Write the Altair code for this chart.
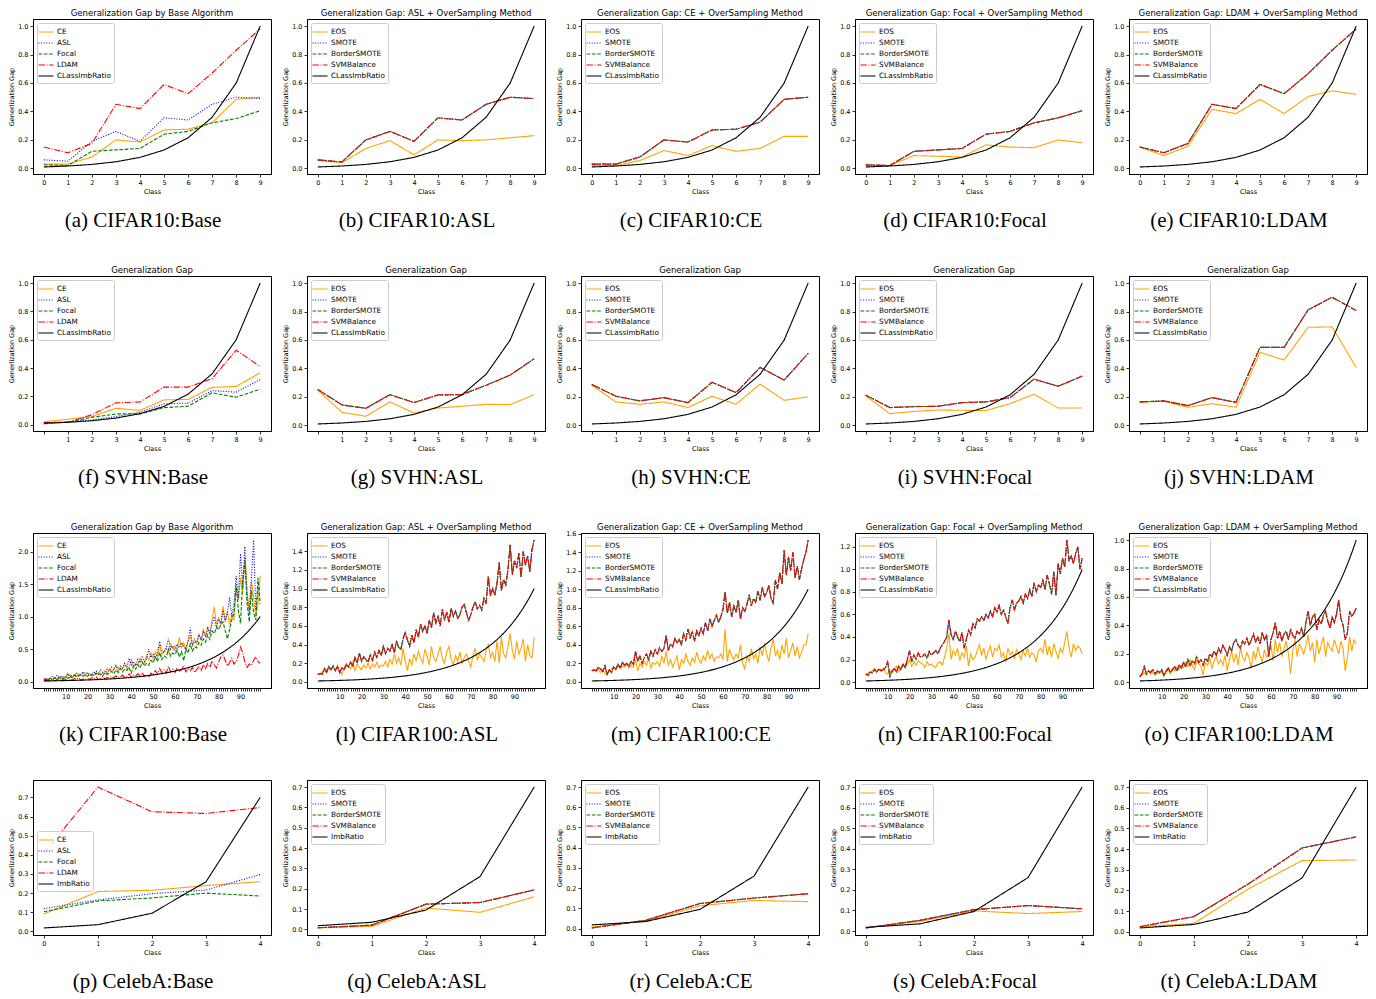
import altair as alt
import pandas as pd

# ---------------- data ----------------
C10 = list(range(10))
C100 = list(range(100))
C5 = list(range(5))

IMB10 = [0.010, 0.0167, 0.0278, 0.0464, 0.0774, 0.129, 0.215, 0.359, 0.599, 1.0]
IMB5 = [0.018, 0.035, 0.095, 0.26, 0.70]
IMB100 = [0.0100, 0.0105, 0.0110, 0.0115, 0.0120, 0.0126, 0.0132, 0.0138, 0.0145, 0.0152,
          0.0159, 0.0167, 0.0175, 0.0183, 0.0192, 0.0201, 0.0210, 0.0220, 0.0231, 0.0242,
          0.0253, 0.0265, 0.0278, 0.0291, 0.0305, 0.0320, 0.0335, 0.0351, 0.0368, 0.0385,
          0.0404, 0.0423, 0.0443, 0.0464, 0.0486, 0.0509, 0.0534, 0.0559, 0.0586, 0.0614,
          0.0643, 0.0673, 0.0705, 0.0739, 0.0774, 0.0811, 0.0850, 0.0890, 0.0933, 0.0977,
          0.1024, 0.1072, 0.1123, 0.1177, 0.1233, 0.1292, 0.1353, 0.1418, 0.1485, 0.1556,
          0.1630, 0.1707, 0.1789, 0.1874, 0.1963, 0.2057, 0.2154, 0.2257, 0.2364, 0.2477,
          0.2595, 0.2718, 0.2848, 0.2983, 0.3125, 0.3274, 0.3430, 0.3593, 0.3764, 0.3943,
          0.4131, 0.4328, 0.4534, 0.4750, 0.4976, 0.5213, 0.5461, 0.5721, 0.5994, 0.6279,
          0.6578, 0.6891, 0.7220, 0.7563, 0.7924, 0.8301, 0.8696, 0.9110, 0.9545, 1.0000]

# CIFAR10
A_CE = [0.03, 0.03, 0.08, 0.20, 0.185, 0.27, 0.275, 0.32, 0.485, 0.50]
A_ASL = [0.06, 0.05, 0.19, 0.26, 0.19, 0.355, 0.34, 0.45, 0.50, 0.49]
A_FOCAL = [0.025, 0.02, 0.12, 0.13, 0.14, 0.24, 0.26, 0.32, 0.35, 0.405]
A_LDAM = [0.15, 0.11, 0.175, 0.45, 0.42, 0.59, 0.525, 0.67, 0.83, 0.98]
B_EOS = [0.055, 0.04, 0.14, 0.195, 0.095, 0.20, 0.195, 0.20, 0.215, 0.23]
B_OS = [0.06, 0.045, 0.20, 0.26, 0.19, 0.355, 0.34, 0.45, 0.50, 0.49]
C_EOS = [0.02, 0.02, 0.055, 0.125, 0.09, 0.16, 0.12, 0.14, 0.225, 0.225]
C_OS = [0.03, 0.03, 0.08, 0.20, 0.185, 0.27, 0.275, 0.325, 0.485, 0.50]
D_EOS = [0.02, 0.02, 0.09, 0.085, 0.08, 0.165, 0.15, 0.145, 0.20, 0.18]
D_OS = [0.025, 0.02, 0.12, 0.13, 0.14, 0.24, 0.26, 0.32, 0.355, 0.405]
E_EOS = [0.15, 0.09, 0.155, 0.415, 0.385, 0.485, 0.385, 0.505, 0.545, 0.52]
E_OS = [0.15, 0.11, 0.175, 0.45, 0.42, 0.59, 0.525, 0.665, 0.83, 0.98]

# SVHN
F_CE = [0.02, 0.038, 0.057, 0.116, 0.10, 0.175, 0.178, 0.263, 0.27, 0.365]
F_ASL = [0.005, 0.02, 0.033, 0.057, 0.088, 0.147, 0.152, 0.24, 0.23, 0.318]
F_FOCAL = [0.012, 0.017, 0.052, 0.076, 0.076, 0.12, 0.13, 0.225, 0.194, 0.25]
F_LDAM = [0.015, 0.017, 0.07, 0.154, 0.16, 0.265, 0.265, 0.325, 0.526, 0.41]
G_EOS = [0.247, 0.092, 0.064, 0.165, 0.087, 0.122, 0.134, 0.148, 0.146, 0.216]
G_OS = [0.252, 0.144, 0.12, 0.216, 0.16, 0.214, 0.216, 0.282, 0.353, 0.468]
H_EOS = [0.282, 0.165, 0.148, 0.165, 0.125, 0.205, 0.148, 0.29, 0.176, 0.20]
H_OS = [0.287, 0.205, 0.172, 0.195, 0.16, 0.303, 0.23, 0.407, 0.318, 0.506]
I_EOS = [0.207, 0.082, 0.098, 0.108, 0.106, 0.104, 0.153, 0.219, 0.122, 0.122]
I_OS = [0.212, 0.125, 0.132, 0.134, 0.16, 0.165, 0.195, 0.325, 0.275, 0.346]
J_EOS = [0.162, 0.17, 0.127, 0.153, 0.127, 0.513, 0.459, 0.689, 0.692, 0.407]
J_OS = [0.165, 0.172, 0.139, 0.195, 0.162, 0.548, 0.548, 0.812, 0.90, 0.807]

# CIFAR100
K_CE = [0.06, 0.03, 0.04, 0.05, 0.03, 0.06, 0.04, 0.07, 0.05, 0.08,
        0.06, 0.13, 0.09, 0.07, 0.11, 0.08, 0.12, 0.10, 0.14, 0.11,
        0.13, 0.09, 0.12, 0.15, 0.11, 0.14, 0.10, 0.13, 0.17, 0.12,
        0.20, 0.15, 0.18, 0.24, 0.16, 0.21, 0.19, 0.27, 0.20, 0.23,
        0.34, 0.22, 0.28, 0.25, 0.36, 0.30, 0.27, 0.40, 0.33, 0.44,
        0.35, 0.46, 0.38, 0.57, 0.41, 0.47, 0.52, 0.44, 0.58, 0.50,
        0.55, 0.48, 0.68, 0.52, 0.60, 0.49, 0.62, 0.70, 0.55, 0.66,
        0.58, 0.74, 0.63, 0.80, 0.70, 0.85, 0.72, 0.95, 1.15, 0.88,
        0.98, 0.86, 1.16, 0.94, 1.08, 0.88, 1.02, 0.95, 1.45, 1.25,
        1.60, 1.35, 1.92, 1.40, 1.10, 1.55, 1.30, 1.00, 1.18, 1.63]
K_ASL = [0.03, 0.05, 0.02, 0.06, 0.08, 0.04, 0.10, 0.06, 0.09, 0.05,
         0.08, 0.12, 0.06, 0.10, 0.08, 0.13, 0.09, 0.11, 0.15, 0.10,
         0.14, 0.11, 0.09, 0.13, 0.16, 0.12, 0.18, 0.14, 0.12, 0.19,
         0.16, 0.22, 0.18, 0.25, 0.20, 0.24, 0.21, 0.28, 0.22, 0.36,
         0.26, 0.31, 0.24, 0.34, 0.29, 0.38, 0.31, 0.35, 0.50, 0.37,
         0.42, 0.36, 0.45, 0.62, 0.48, 0.44, 0.52, 0.66, 0.50, 0.55,
         0.47, 0.58, 0.52, 0.60, 0.54, 0.50, 0.63, 0.83, 0.56, 0.62,
         0.60, 0.72, 0.64, 0.78, 0.69, 0.82, 0.75, 0.88, 1.00, 0.82,
         0.96, 0.90, 1.10, 0.92, 1.05, 1.30, 1.00, 1.20, 1.62, 1.28,
         1.97, 1.45, 2.08, 1.30, 1.05, 1.60, 2.18, 1.10, 1.40, 1.45]
K_FOCAL = [0.02, 0.04, 0.03, 0.05, 0.03, 0.06, 0.04, 0.05, 0.07, 0.04,
           0.07, 0.05, 0.09, 0.06, 0.10, 0.07, 0.09, 0.11, 0.08, 0.10,
           0.08, 0.12, 0.10, 0.09, 0.13, 0.10, 0.12, 0.09, 0.14, 0.11,
           0.13, 0.16, 0.12, 0.18, 0.14, 0.20, 0.15, 0.19, 0.17, 0.22,
           0.13, 0.24, 0.19, 0.26, 0.21, 0.30, 0.24, 0.28, 0.25, 0.33,
           0.29, 0.38, 0.31, 0.45, 0.34, 0.40, 0.37, 0.50, 0.39, 0.44,
           0.42, 0.48, 0.38, 0.46, 0.32, 0.50, 0.44, 0.58, 0.47, 0.54,
           0.52, 0.60, 0.56, 0.66, 0.61, 0.72, 0.65, 0.78, 0.74, 0.84,
           0.80, 0.88, 0.92, 0.78, 0.66, 0.80, 0.95, 1.05, 1.50, 1.10,
           0.90, 1.55, 1.85, 1.20, 0.92, 1.40, 1.05, 0.95, 1.60, 1.20]
K_LDAM = [0.02, 0.01, 0.03, 0.02, 0.04, 0.01, 0.03, 0.02, 0.05, 0.02,
          0.03, 0.01, 0.04, 0.02, 0.05, 0.03, 0.06, 0.02, 0.04, 0.03,
          0.05, 0.03, 0.06, 0.04, 0.07, 0.03, 0.05, 0.08, 0.04, 0.06,
          0.05, 0.08, 0.06, 0.09, 0.05, 0.07, 0.10, 0.06, 0.08, 0.12,
          0.07, 0.10, 0.08, 0.12, 0.09, 0.14, 0.08, 0.11, 0.07, 0.13,
          0.10, 0.17, 0.12, 0.20, 0.14, 0.18, 0.13, 0.24, 0.15, 0.19,
          0.14, 0.21, 0.16, 0.18, 0.25, 0.15, 0.20, 0.17, 0.22, 0.14,
          0.19, 0.23, 0.17, 0.26, 0.20, 0.28, 0.22, 0.32, 0.26, 0.21,
          0.30, 0.38, 0.41, 0.33, 0.24, 0.29, 0.36, 0.27, 0.31, 0.40,
          0.53, 0.45, 0.30, 0.22, 0.27, 0.25, 0.33, 0.38, 0.31, 0.28]
L_EOS = [0.08, 0.09, 0.10, 0.15, 0.12, 0.17, 0.14, 0.16, 0.13, 0.18,
         0.12, 0.08, 0.15, 0.20, 0.17, 0.14, 0.21, 0.12, 0.19, 0.16,
         0.13, 0.18, 0.15, 0.20, 0.14, 0.19, 0.16, 0.21, 0.15, 0.18,
         0.17, 0.22, 0.16, 0.24, 0.19, 0.30, 0.20, 0.26, 0.18, 0.36,
         0.22, 0.12, 0.25, 0.18, 0.30, 0.22, 0.33, 0.26, 0.20, 0.35,
         0.28, 0.18, 0.38, 0.26, 0.22, 0.30, 0.38, 0.25, 0.20, 0.32,
         0.38, 0.24, 0.18, 0.28, 0.22, 0.32, 0.20, 0.26, 0.30, 0.22,
         0.16, 0.28, 0.36, 0.24, 0.30, 0.26, 0.22, 0.34, 0.40, 0.26,
         0.32, 0.22, 0.44, 0.20, 0.48, 0.30, 0.26, 0.38, 0.52, 0.34,
         0.24, 0.44, 0.30, 0.36, 0.46, 0.22, 0.40, 0.28, 0.26, 0.48]
L_OS = [0.08, 0.09, 0.08, 0.14, 0.10, 0.16, 0.13, 0.17, 0.12, 0.16,
        0.10, 0.15, 0.13, 0.18, 0.16, 0.21, 0.17, 0.26, 0.20, 0.31,
        0.22, 0.27, 0.24, 0.21, 0.29, 0.23, 0.32, 0.26, 0.34, 0.28,
        0.38, 0.30, 0.36, 0.33, 0.40, 0.31, 0.44, 0.37, 0.35, 0.46,
        0.53, 0.45, 0.38, 0.50, 0.42, 0.56, 0.48, 0.62, 0.54, 0.60,
        0.52, 0.66, 0.58, 0.74, 0.63, 0.70, 0.60, 0.78, 0.66, 0.75,
        0.64, 0.79, 0.70, 0.76, 0.68, 0.72, 0.80, 0.83, 0.74, 0.66,
        0.72, 0.80, 0.86, 0.78, 0.82, 0.77, 0.90, 0.84, 1.13, 0.92,
        1.00, 0.93, 1.06, 1.28, 0.98, 1.10, 1.04, 1.20, 1.47, 1.15,
        1.30, 1.22, 1.38, 1.12, 1.40, 1.25, 1.35, 1.18, 1.42, 1.52]
M_EOS = [0.12, 0.13, 0.11, 0.14, 0.10, 0.13, 0.09, 0.08, 0.12, 0.14,
         0.16, 0.13, 0.18, 0.15, 0.17, 0.16, 0.19, 0.15, 0.18, 0.16,
         0.24, 0.12, 0.20, 0.16, 0.22, 0.18, 0.26, 0.15, 0.21, 0.19,
         0.22, 0.17, 0.28, 0.20, 0.33, 0.18, 0.24, 0.16, 0.22, 0.28,
         0.13, 0.24, 0.20, 0.30, 0.22, 0.18, 0.26, 0.21, 0.32, 0.24,
         0.20, 0.28, 0.23, 0.34, 0.25, 0.30, 0.22, 0.27, 0.26, 0.30,
         0.24, 0.57, 0.22, 0.35, 0.28, 0.24, 0.30, 0.26, 0.40, 0.20,
         0.14, 0.28, 0.22, 0.36, 0.25, 0.30, 0.20, 0.38, 0.28, 0.42,
         0.30, 0.22, 0.36, 0.46, 0.28, 0.34, 0.24, 0.40, 0.30, 0.47,
         0.26, 0.34, 0.42, 0.28, 0.38, 0.26, 0.32, 0.40, 0.40, 0.52]
M_OS = [0.12, 0.13, 0.12, 0.16, 0.14, 0.11, 0.17, 0.08, 0.13, 0.10,
        0.16, 0.14, 0.19, 0.15, 0.21, 0.18, 0.20, 0.17, 0.22, 0.19,
        0.33, 0.22, 0.28, 0.20, 0.26, 0.30, 0.24, 0.33, 0.28, 0.35,
        0.30, 0.37, 0.33, 0.36, 0.50, 0.34, 0.41, 0.38, 0.47, 0.42,
        0.46, 0.40, 0.52, 0.45, 0.57, 0.48, 0.54, 0.44, 0.55, 0.50,
        0.58, 0.52, 0.64, 0.55, 0.68, 0.60, 0.66, 0.72, 0.64, 0.70,
        0.78, 0.97, 0.74, 0.86, 0.70, 0.82, 0.75, 0.88, 0.68, 0.80,
        0.76, 0.84, 0.94, 0.82, 0.90, 0.86, 0.98, 0.88, 1.02, 0.92,
        0.96, 1.04, 0.90, 0.85, 1.10, 1.00, 1.18, 1.06, 1.42, 1.15,
        1.35, 1.20, 1.40, 1.12, 1.25, 1.10, 1.22, 1.32, 1.40, 1.53]
N_EOS = [0.07, 0.08, 0.09, 0.10, 0.12, 0.09, 0.11, 0.10, 0.12, 0.09,
         0.07, 0.10, 0.08, 0.11, 0.14, 0.09, 0.12, 0.15, 0.13, 0.16,
         0.20, 0.14, 0.18, 0.15, 0.19, 0.17, 0.16, 0.13, 0.18, 0.15,
         0.16, 0.14, 0.13, 0.17, 0.18, 0.15, 0.22, 0.30, 0.43, 0.20,
         0.28, 0.24, 0.30, 0.19, 0.26, 0.22, 0.32, 0.14, 0.25, 0.20,
         0.22, 0.28, 0.33, 0.24, 0.30, 0.20, 0.27, 0.32, 0.22, 0.30,
         0.28, 0.33, 0.22, 0.26, 0.18, 0.30, 0.24, 0.27, 0.21, 0.29,
         0.25, 0.20, 0.28, 0.23, 0.30, 0.22, 0.26, 0.24, 0.18, 0.28,
         0.30, 0.26, 0.38, 0.24, 0.32, 0.22, 0.34, 0.27, 0.21, 0.30,
         0.26, 0.35, 0.45, 0.30, 0.22, 0.34, 0.28, 0.32, 0.30, 0.25]
N_OS = [0.07, 0.06, 0.09, 0.08, 0.11, 0.09, 0.12, 0.10, 0.11, 0.13,
        0.18, 0.05, 0.10, 0.12, 0.09, 0.14, 0.11, 0.16, 0.13, 0.20,
        0.28, 0.18, 0.24, 0.20, 0.26, 0.22, 0.23, 0.25, 0.21, 0.27,
        0.24, 0.26, 0.28, 0.25, 0.30, 0.33, 0.36, 0.40, 0.55, 0.42,
        0.38, 0.45, 0.40, 0.36, 0.44, 0.30, 0.38, 0.46, 0.42, 0.52,
        0.48, 0.56, 0.54, 0.58, 0.55, 0.60, 0.57, 0.63, 0.58, 0.66,
        0.62, 0.68, 0.60, 0.64, 0.58, 0.52, 0.66, 0.73, 0.64, 0.70,
        0.72, 0.76, 0.70, 0.78, 0.74, 0.82, 0.76, 0.88, 0.80, 0.86,
        0.84, 0.90, 0.82, 0.95, 0.87, 0.78, 0.98, 0.77, 1.05, 0.96,
        1.10, 1.02, 1.26, 1.08, 1.12, 1.05, 1.14, 1.20, 1.00, 1.10]
O_EOS = [0.04, 0.05, 0.07, 0.05, 0.08, 0.06, 0.07, 0.05, 0.07, 0.06,
         0.08, 0.04, 0.07, 0.09, 0.06, 0.10, 0.08, 0.11, 0.09, 0.12,
         0.10, 0.14, 0.11, 0.16, 0.12, 0.09, 0.15, 0.13, 0.11, 0.05,
         0.14, 0.12, 0.17, 0.10, 0.15, 0.18, 0.13, 0.16, 0.12, 0.19,
         0.08, 0.16, 0.22, 0.14, 0.20, 0.12, 0.24, 0.18, 0.15, 0.21,
         0.17, 0.10, 0.22, 0.16, 0.25, 0.19, 0.14, 0.23, 0.18, 0.20,
         0.26, 0.15, 0.30, 0.21, 0.28, 0.18, 0.24, 0.29, 0.20, 0.06,
         0.22, 0.30, 0.18, 0.27, 0.24, 0.20, 0.26, 0.33, 0.22, 0.28,
         0.14, 0.30, 0.20, 0.26, 0.32, 0.18, 0.28, 0.24, 0.22, 0.30,
         0.25, 0.20, 0.29, 0.24, 0.08, 0.18, 0.32, 0.22, 0.30, 0.27]
O_OS = [0.04, 0.06, 0.11, 0.06, 0.08, 0.07, 0.09, 0.06, 0.08, 0.07,
        0.09, 0.05, 0.08, 0.10, 0.07, 0.09, 0.11, 0.08, 0.12, 0.10,
        0.14, 0.11, 0.16, 0.12, 0.15, 0.13, 0.18, 0.14, 0.16, 0.12,
        0.17, 0.15, 0.20, 0.18, 0.22, 0.19, 0.24, 0.21, 0.26, 0.23,
        0.19, 0.25, 0.22, 0.28, 0.30, 0.26, 0.24, 0.29, 0.27, 0.31,
        0.26, 0.30, 0.34, 0.28, 0.32, 0.27, 0.35, 0.30, 0.33, 0.18,
        0.30, 0.35, 0.42, 0.31, 0.36, 0.29, 0.34, 0.36, 0.30, 0.37,
        0.33, 0.31, 0.36, 0.34, 0.38, 0.32, 0.42, 0.50, 0.40, 0.46,
        0.48, 0.37, 0.44, 0.41, 0.47, 0.50, 0.43, 0.38, 0.46, 0.42,
        0.48, 0.58, 0.45, 0.40, 0.30, 0.35, 0.50, 0.46, 0.49, 0.52]

# CelebA
P_CE = [0.091, 0.208, 0.215, 0.239, 0.26]
P_ASL = [0.119, 0.164, 0.197, 0.216, 0.297]
P_FOCAL = [0.103, 0.159, 0.175, 0.20, 0.185]
P_LDAM = [0.408, 0.754, 0.625, 0.616, 0.647]
Q_EOS = [0.007, 0.015, 0.105, 0.084, 0.16]
Q_OS = [0.008, 0.021, 0.124, 0.132, 0.194]
R_EOS = [0.008, 0.036, 0.113, 0.139, 0.133]
R_OS = [0.003, 0.041, 0.124, 0.151, 0.172]
S_EOS = [0.016, 0.047, 0.098, 0.085, 0.095]
S_OS = [0.015, 0.052, 0.104, 0.124, 0.108]
T_EOS = [0.023, 0.04, 0.206, 0.344, 0.347]
T_OS = [0.024, 0.073, 0.23, 0.405, 0.459]

# tick values
YT_10 = [0.0, 0.2, 0.4, 0.6, 0.8, 1.0]
YT_K = [0.0, 0.5, 1.0, 1.5, 2.0]
YT_L = [0.0, 0.2, 0.4, 0.6, 0.8, 1.0, 1.2, 1.4]
YT_M = [0.0, 0.2, 0.4, 0.6, 0.8, 1.0, 1.2, 1.4, 1.6]
YT_N = [0.0, 0.2, 0.4, 0.6, 0.8, 1.0, 1.2]
YT_CELEB = [0.0, 0.1, 0.2, 0.3, 0.4, 0.5, 0.6, 0.7]

# ---------------- styles ----------------
COLORS = ["#ffa500", "#0000ff", "#008000", "#ff0000", "#000000"]
DASHES = [[1, 0], [1, 1.6], [3.7, 1.6], [6.4, 1.6, 1, 1.6], [1, 0]]
W, H = 238, 155
FONT = "DejaVu Sans"
YTITLE = "Generlization  Gap"

LABEL_EXPR = {
    "all": "datum.label",
    "skip0": "datum.value == 0 ? '' : datum.label",
    "tens": "(datum.value % 10 == 0 && datum.value > 0) ? datum.label : ''",
}


def base_series(ce, asl, foc, ldam, imb, imbname):
    return [("CE", ce), ("ASL", asl), ("Focal", foc), ("LDAM", ldam), (imbname, imb)]


def os_series(eos, os_vals, imb, imbname):
    return [("EOS", eos), ("SMOTE", os_vals), ("BorderSMOTE", os_vals),
            ("SVMBalance", os_vals), (imbname, imb)]


TITLE_BASE = "Generalization Gap by Base Algorithm"
TITLE_OS = "Generalization Gap: {} + OverSampling Method"
TITLE_SVHN = "Generalization Gap"
IMBN = "CLassImbRatio"

PANELS = [
    # row 1 CIFAR10
    dict(title=TITLE_BASE, cap="(a) CIFAR10:Base", cls=C10, lab="all", yt=YT_10,
         series=base_series(A_CE, A_ASL, A_FOCAL, A_LDAM, IMB10, IMBN)),
    dict(title=TITLE_OS.format("ASL"), cap="(b) CIFAR10:ASL", cls=C10, lab="all", yt=YT_10,
         series=os_series(B_EOS, B_OS, IMB10, IMBN)),
    dict(title=TITLE_OS.format("CE"), cap="(c) CIFAR10:CE", cls=C10, lab="all", yt=YT_10,
         series=os_series(C_EOS, C_OS, IMB10, IMBN)),
    dict(title=TITLE_OS.format("Focal"), cap="(d) CIFAR10:Focal", cls=C10, lab="all", yt=YT_10,
         series=os_series(D_EOS, D_OS, IMB10, IMBN)),
    dict(title=TITLE_OS.format("LDAM"), cap="(e) CIFAR10:LDAM", cls=C10, lab="all", yt=YT_10,
         series=os_series(E_EOS, E_OS, IMB10, IMBN)),
    # row 2 SVHN
    dict(title=TITLE_SVHN, cap="(f) SVHN:Base", cls=C10, lab="skip0", yt=YT_10,
         series=base_series(F_CE, F_ASL, F_FOCAL, F_LDAM, IMB10, IMBN)),
    dict(title=TITLE_SVHN, cap="(g) SVHN:ASL", cls=C10, lab="skip0", yt=YT_10,
         series=os_series(G_EOS, G_OS, IMB10, IMBN)),
    dict(title=TITLE_SVHN, cap="(h) SVHN:CE", cls=C10, lab="skip0", yt=YT_10,
         series=os_series(H_EOS, H_OS, IMB10, IMBN)),
    dict(title=TITLE_SVHN, cap="(i) SVHN:Focal", cls=C10, lab="skip0", yt=YT_10,
         series=os_series(I_EOS, I_OS, IMB10, IMBN)),
    dict(title=TITLE_SVHN, cap="(j) SVHN:LDAM", cls=C10, lab="skip0", yt=YT_10,
         series=os_series(J_EOS, J_OS, IMB10, IMBN)),
    # row 3 CIFAR100
    dict(title=TITLE_BASE, cap="(k) CIFAR100:Base", cls=C100, lab="tens", yt=YT_K,
         series=base_series(K_CE, K_ASL, K_FOCAL, K_LDAM, IMB100, IMBN)),
    dict(title=TITLE_OS.format("ASL"), cap="(l) CIFAR100:ASL", cls=C100, lab="tens", yt=YT_L,
         series=os_series(L_EOS, L_OS, IMB100, IMBN)),
    dict(title=TITLE_OS.format("CE"), cap="(m) CIFAR100:CE", cls=C100, lab="tens", yt=YT_M,
         series=os_series(M_EOS, M_OS, IMB100, IMBN)),
    dict(title=TITLE_OS.format("Focal"), cap="(n) CIFAR100:Focal", cls=C100, lab="tens", yt=YT_N,
         series=os_series(N_EOS, N_OS, IMB100, IMBN)),
    dict(title=TITLE_OS.format("LDAM"), cap="(o) CIFAR100:LDAM", cls=C100, lab="tens", yt=YT_10,
         series=os_series(O_EOS, O_OS, IMB100, IMBN)),
    # row 4 CelebA
    dict(title=None, cap="(p) CelebA:Base", cls=C5, lab="all", yt=YT_CELEB, legend_pos=(4, 51),
         series=base_series(P_CE, P_ASL, P_FOCAL, P_LDAM, IMB5, "ImbRatio")),
    dict(title=None, cap="(q) CelebA:ASL", cls=C5, lab="all", yt=YT_CELEB,
         series=os_series(Q_EOS, Q_OS, IMB5, "ImbRatio")),
    dict(title=None, cap="(r) CelebA:CE", cls=C5, lab="all", yt=YT_CELEB,
         series=os_series(R_EOS, R_OS, IMB5, "ImbRatio")),
    dict(title=None, cap="(s) CelebA:Focal", cls=C5, lab="all", yt=YT_CELEB,
         series=os_series(S_EOS, S_OS, IMB5, "ImbRatio")),
    dict(title=None, cap="(t) CelebA:LDAM", cls=C5, lab="all", yt=YT_CELEB,
         series=os_series(T_EOS, T_OS, IMB5, "ImbRatio")),
]


def make_panel(p):
    cls = p["cls"]
    names = [s[0] for s in p["series"]]
    recs = []
    for name, vals in p["series"]:
        for c, v in zip(cls, vals):
            recs.append({"Class": c, "Gap": v, "series": name})
    df = pd.DataFrame(recs)
    allv = [float(v) for _, vals in p["series"] for v in vals]
    lo, hi = min(allv), max(allv)
    ypad = 0.05 * (hi - lo)
    xlo, xhi = cls[0], cls[-1]
    xpad = 0.05 * (xhi - xlo)

    if "legend_pos" in p:
        lg = alt.Legend(title=None, orient="none", legendX=p["legend_pos"][0],
                        legendY=p["legend_pos"][1])
    else:
        lg = alt.Legend(title=None, orient="top-left")

    x = alt.X("Class:Q",
              scale=alt.Scale(domain=[xlo - xpad, xhi + xpad], nice=False, zero=False),
              axis=alt.Axis(values=cls, format="d", labelExpr=LABEL_EXPR[p["lab"]],
                            labelOverlap=False, title="Class"))
    y = alt.Y("Gap:Q",
              scale=alt.Scale(domain=[lo - ypad, hi + ypad], nice=False, zero=False),
              axis=alt.Axis(values=p["yt"], format=".1f", labelOverlap=False,
                            title=YTITLE))
    color = alt.Color("series:N", scale=alt.Scale(domain=names, range=COLORS), legend=lg)
    dash = alt.StrokeDash("series:N", scale=alt.Scale(domain=names, range=DASHES), legend=lg)

    layers = []
    for name in names:
        layers.append(
            alt.Chart(df).transform_filter(alt.datum.series == name)
            .mark_line(strokeWidth=1.1, clip=True)
            .encode(x=x, y=y, color=color, strokeDash=dash)
        )
    if p["title"]:
        layers.append(
            alt.Chart(pd.DataFrame({"t": [p["title"]]}))
            .mark_text(font=FONT, fontSize=8.5, color="black", baseline="middle", align="center")
            .encode(x=alt.value(W / 2), y=alt.value(-6.5), text="t:N")
        )
    return alt.layer(*layers).properties(
        width=W, height=H,
        title=alt.TitleParams(p["cap"], orient="bottom", anchor="middle",
                              font="Liberation Serif", fontSize=21, dx=-9,
                              fontWeight="normal", color="black", offset=15),
    )


rows = []
for r in range(4):
    row = alt.hconcat(*[make_panel(p) for p in PANELS[r * 5:(r + 1) * 5]], spacing=10)
    row = row.resolve_scale(color="independent", strokeDash="independent",
                            x="independent", y="independent")
    rows.append(row)

chart = alt.vconcat(*rows, spacing=33).resolve_scale(
    color="independent", strokeDash="independent", x="independent", y="independent"
).properties(padding=0).configure_view(
    stroke="black", strokeWidth=1
).configure_axis(
    grid=False, domainColor="black", tickColor="black", labelColor="black",
    titleColor="black", labelFont=FONT, titleFont=FONT, labelFontSize=6.5,
    titleFontSize=6.5, titleFontWeight="normal", tickSize=3, labelPadding=2,
    titlePadding=3, domainWidth=1, tickWidth=0.8,
).configure_legend(
    labelFont=FONT, labelFontSize=7.3, labelColor="black", symbolType="M-1.5,0H1.5",
    symbolSize=100, symbolStrokeWidth=1.2, padding=3, rowPadding=1.0, labelOffset=5,
    offset=4, strokeColor="#cccccc", fillColor="rgba(255,255,255,0.85)",
    cornerRadius=2,
)

chart.save("out.html", embed_options={"renderer": "svg", "actions": False})
